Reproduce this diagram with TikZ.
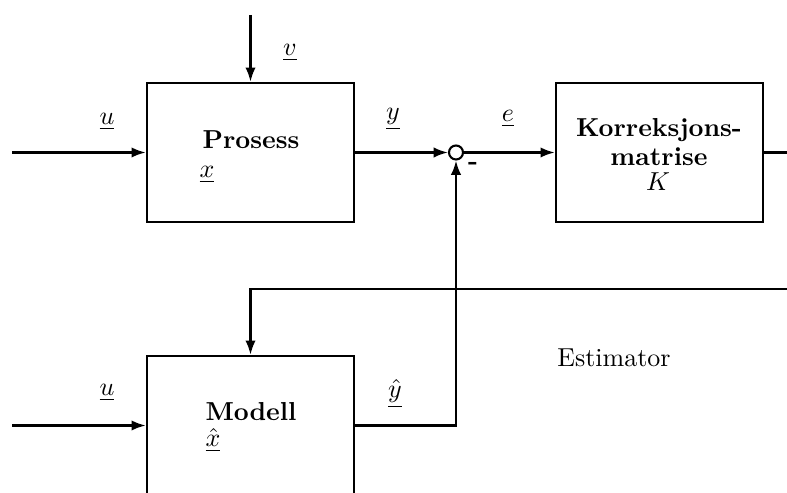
\documentclass[tikz,border=0pt]{standalone}
\usetikzlibrary{arrows.meta}
\begin{document}
\begin{tikzpicture}[x=0.385pt,y=-0.385pt,
  line width=0.9pt,
  blk/.style={draw,rectangle,minimum width={207*0.385pt},minimum height={139*0.385pt},inner sep=0pt},
  sumc/.style={draw,circle,minimum size={14*0.385pt},inner sep=0pt,line width=0.8pt},
  sig/.style={-{Latex[length=5.5pt,width=4pt]}},
  lbl/.style={inner sep=0pt},
  ttl/.style={inner sep=0pt,font=\bfseries}]
\clip (0,0) rectangle (787,493);
\useasboundingbox (0,0) rectangle (787,493);
% blocks
\node[blk] (proc) at (250.5,152.5) {};
\node[blk] (korr) at (659.5,152.5) {};
\node[blk] (model) at (250.5,425.5) {};
\node[sumc] (sum) at (456,152.5) {};
% texts
\node[ttl] (tproc) at (251,140) {Prosess};
\node[lbl] (tx) at (207,175) {$\underline{x}$};
\node[ttl,align=center] (tkorr) at (659,142) {Korreksjons-\\[-1pt]matrise};
\node[lbl] (tK) at (658,182) {$K$};
\node[ttl] (tmodel) at (251,412) {Modell};
\node[lbl] (txh) at (213,440) {$\underline{\hat{x}}$};
\node[lbl] (lu1) at (107,122) {$\underline{u}$};
\node[lbl] (lu2) at (107,393) {$\underline{u}$};
\node[lbl] (lv) at (290,53) {$\underline{v}$};
\node[lbl] (ly) at (393,119) {$\underline{y}$};
\node[lbl] (le) at (508,119) {$\underline{e}$};
\node[lbl] (lyh) at (395,394) {$\underline{\hat{y}}$};
\node[lbl] (lminus) at (473,166) {\bfseries -};
\node[lbl] (lest) at (614,358) {Estimator};
% coordinates
\coordinate (uin1) at (12,152.5);
\coordinate (uin2) at (12,425.5);
\coordinate (vin) at (250.5,15);
\coordinate (kout) at (790,152.5);
\coordinate (fbR) at (790,289);
\coordinate (fbL) at (250.5,289);
\coordinate (mcorner) at (456,425.5);
% connectors
\draw[sig] (uin1) -- (proc.west);
\draw[sig] (vin) -- (proc.north);
\draw[sig] (proc.east) -- (sum.west);
\draw[sig] (sum.east) -- (korr.west);
\draw (korr.east) -- (kout);
\draw[sig] (fbR) -- (fbL) -- (model.north);
\draw[sig] (uin2) -- (model.west);
\draw[sig] (model.east) -- (mcorner) -- (sum.south);
\end{tikzpicture}
\end{document}
